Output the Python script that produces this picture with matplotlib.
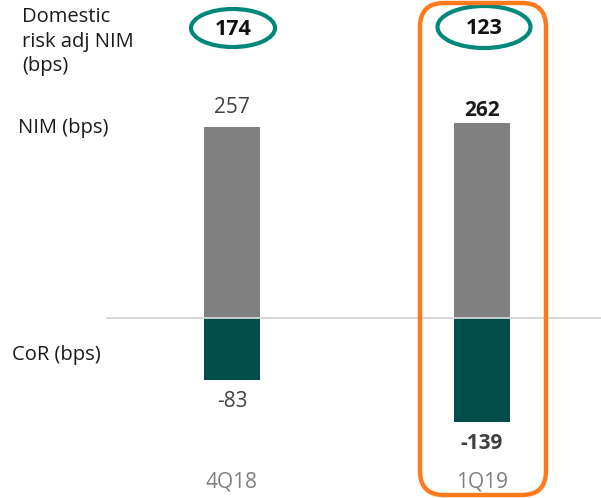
import matplotlib
matplotlib.use("Agg")
import matplotlib.pyplot as plt
from matplotlib.patches import Ellipse, FancyBboxPatch

plt.rcParams['font.family'] = ['Open Sans', 'DejaVu Sans']

# Data
quarters = ["4Q18", "1Q19"]
nim = [257, 262]
cor = [-83, -139]
risk_adj_nim = [174, 123]
bold_flags = [False, True]

GRAY = "#808080"
TEAL_DARK = "#004d4a"
TEAL_RING = "#00877b"
ORANGE = "#ff7a1c"
TEXT = "#1a1a1a"
VAL = "#404040"
CAT = "#7f7f7f"

W, H = 601, 498
fig = plt.figure(figsize=(W / 100, H / 100), dpi=100)

# Main axes: bars in data units
ax = fig.add_axes([0, 0, 1, 1])
ax.set_xlim(-0.928, 1.476)
ax.set_ylim(-241.6, 426.8)
ax.axis("off")

x = list(range(len(quarters)))
bw = 0.224
ax.bar(x, nim, width=bw, color=GRAY, zorder=2)
ax.bar(x, cor, width=bw, color=TEAL_DARK, zorder=2)
ax.plot([-0.5, 1.476], [0, 0], color="#d4d4d4", lw=1.3, zorder=3)

for xi, n, c, b in zip(x, nim, cor, bold_flags):
    fw = "bold" if b else "normal"
    col = TEXT if b else VAL
    ax.annotate(f"{n}", (xi, n), xytext=(0, 6 if not b else 1),
                textcoords="offset points", ha="center", va="bottom",
                fontsize=15, fontweight=fw, color=col)
    ax.annotate(f"{c}", (xi, c), xytext=(0, -8), textcoords="offset points",
                ha="center", va="top", fontsize=15, fontweight=fw, color=VAL)

# Overlay axes in pixel units for labels and highlight shapes
ov = fig.add_axes([0, 0, 1, 1], facecolor="none")
ov.set_xlim(0, W)
ov.set_ylim(H, 0)
ov.axis("off")

ov.text(22, 7, "Domestic\nrisk adj NIM\n(bps)", ha="left", va="top",
        fontsize=14.5, color=TEXT, linespacing=1.3)
ov.text(18, 128, "NIM (bps)", ha="left", va="center", fontsize=14.5, color=TEXT)
ov.text(12, 355, "CoR (bps)", ha="left", va="center", fontsize=14.5, color=TEXT)

for xc, q in zip([232, 482], quarters):
    ov.text(xc, 482, q, ha="center", va="center", fontsize=15, color=CAT)

ring_centers = [(233, 28, 84, 38), (484, 27, 93, 42)]
for (cx, cy, ew, eh), v in zip(ring_centers, risk_adj_nim):
    ov.add_patch(Ellipse((cx, cy), ew, eh, fill=False, ec=TEAL_RING, lw=3))
    ov.text(cx, cy + 1, f"{v}", ha="center", va="center", fontsize=15.5,
            fontweight="bold", color="#111111")

ov.add_patch(FancyBboxPatch((420, 3), 126, 492,
                            boxstyle="round,pad=0,rounding_size=24",
                            fill=False, ec=ORANGE, lw=3.2))

fig.savefig("out.png", dpi=100)
